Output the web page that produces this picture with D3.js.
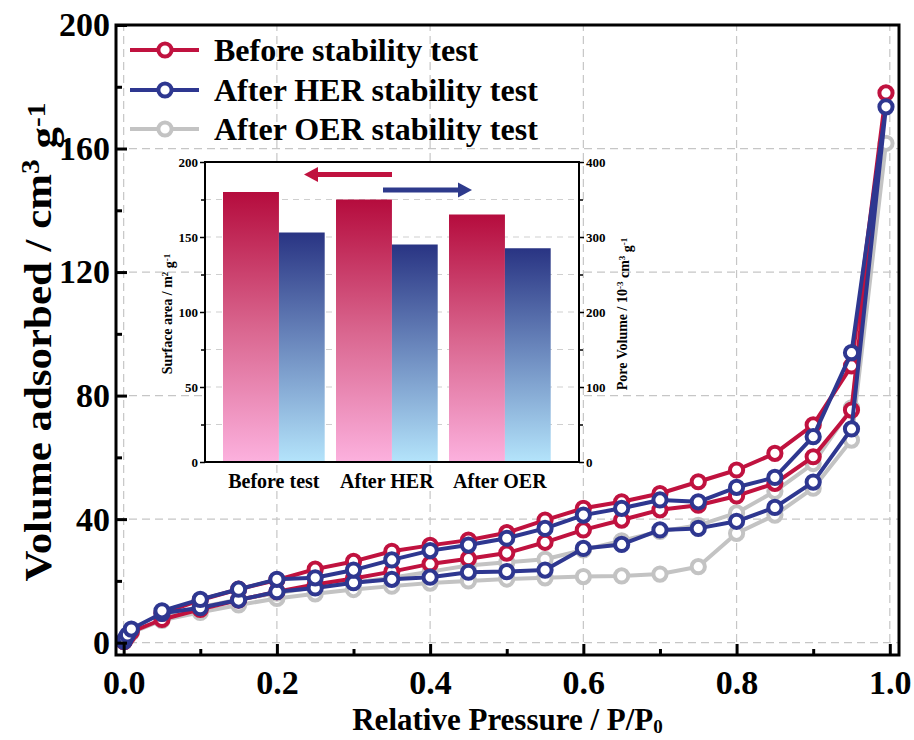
<!DOCTYPE html>
<html>
<head>
<meta charset="utf-8">
<script src="https://cdn.jsdelivr.net/npm/d3@7"></script>
<style>
  html, body { margin: 0; padding: 0; background: #fff; }
  svg { display: block; }
  text { font-family: "Liberation Serif", "Times New Roman", serif; font-weight: bold; fill: #000; }
</style>
</head>
<body>
<script>
// ---------------- DATA ----------------
const seriesNames = ["Before stability test", "After HER stability test", "After OER stability test"];

const adsPressure = [0.0005, 0.002, 0.005, 0.01, 0.05, 0.1, 0.15, 0.2, 0.25, 0.3, 0.35, 0.4, 0.45, 0.5, 0.55, 0.6, 0.65, 0.7, 0.75, 0.8, 0.85, 0.9, 0.95, 0.995];
const desPressure = [0.95, 0.9, 0.85, 0.8, 0.75, 0.7, 0.65, 0.6, 0.55, 0.5, 0.45, 0.4, 0.35, 0.3, 0.25, 0.2, 0.15, 0.1, 0.05];

const beforeAds = [0.3, 1.0, 2.0, 3.5, 7.5, 10.8, 13.8, 16.5, 18.8, 20.8, 23.0, 25.5, 27.2, 29.0, 32.5, 36.5, 39.7, 43.0, 44.5, 47.5, 51.6, 60.2, 75.3, 178.0];
const beforeDes = [89.6, 70.5, 61.3, 55.9, 52.1, 48.3, 45.6, 43.5, 39.7, 35.6, 33.2, 31.5, 29.6, 26.3, 23.8, 20.3, 17.3, 13.8, 9.5];

const herAds = [0.4, 1.3, 2.5, 4.4, 9.5, 11.3, 13.8, 16.5, 17.7, 19.4, 20.5, 21.2, 22.8, 23.0, 23.5, 30.5, 31.8, 36.5, 37.0, 39.3, 43.8, 52.0, 69.2, 173.5];
const herDes = [93.9, 66.7, 53.5, 50.3, 45.6, 46.2, 43.5, 41.3, 37.0, 33.8, 31.6, 29.8, 26.8, 23.5, 21.0, 20.5, 17.3, 14.0, 10.3];

const oerAds = [0.3, 0.9, 1.8, 3.2, 7.2, 9.8, 12.2, 14.3, 15.8, 17.2, 18.3, 19.3, 20.0, 20.6, 21.0, 21.4, 21.6, 22.2, 24.6, 35.4, 41.3, 50.0, 65.6, 161.7];
const oerDes = [76.0, 58.0, 49.0, 42.0, 38.0, 36.0, 33.0, 30.0, 27.0, 26.0, 25.0, 23.0, 21.0, 19.5, 18.0, 16.0, 14.0, 11.5, 8.5];

const xTicks = [0.0, 0.2, 0.4, 0.6, 0.8, 1.0];
const xMinorTicks = [0.1, 0.3, 0.5, 0.7, 0.9];
const yTicks = [0, 40, 80, 120, 160, 200];
const yMinorTicks = [20, 60, 100, 140, 180];

// Inset data
const insetCategories = ["Before test", "After HER", "After OER"];
const surfaceArea = [180, 175, 165];     // m2 g-1 (left axis)
const poreVolume = [306, 290, 285];      // 10^-3 cm3 g-1 (right axis)
const insetLeftTicks = [0, 50, 100, 150, 200];
const insetLeftMinor = [25, 75, 125, 175];
const insetRightTicks = [0, 100, 200, 300, 400];
const insetRightMinor = [50, 150, 250, 350];

// ---------------- DRAW ----------------
const W = 914, H = 740;
const colors = ["#C0123F", "#2E3790", "#C3C3C3"];

const svg = d3.select("body").append("svg").attr("width", W).attr("height", H);
const defs = svg.append("defs");

const x = d3.scaleLinear().domain([-0.01, 1.012]).range([116, 899]);
const y = d3.scaleLinear().domain([-4, 200]).range([655, 25]);
const [X0, X1] = x.range();
const [YB, YT] = y.range();   // bottom, top

// gridlines
const grid = svg.append("g").attr("stroke", "#c6c6c6").attr("stroke-width", 1.2).attr("stroke-dasharray", "8,5");
grid.selectAll("line.h").data(yTicks.filter(v => v < 200)).join("line")
  .attr("x1", X0).attr("x2", X1).attr("y1", d => y(d)).attr("y2", d => y(d));
grid.selectAll("line.v").data(xTicks).join("line")
  .attr("y1", YB).attr("y2", YT).attr("x1", d => x(d)).attr("x2", d => x(d));

// ---------------- INSET ----------------
const ix0 = 205, ix1 = 579, iy0 = 162, iy1 = 462;
const yL = d3.scaleLinear().domain([0, 200]).range([iy1, iy0]);
const yR = d3.scaleLinear().domain([0, 400]).range([iy1, iy0]);
const xb = d3.scaleBand().domain(insetCategories).range([211.7, 562]).paddingInner(0.1).paddingOuter(0.1);

const inset = svg.append("g");
inset.append("rect").attr("x", ix0).attr("y", iy0).attr("width", ix1 - ix0).attr("height", iy1 - iy0).attr("fill", "#fff");

// inset gridlines
inset.append("g").attr("stroke", "#cfcfcf").attr("stroke-width", 1).attr("stroke-dasharray", "6,5")
  .selectAll("line").data(insetLeftMinor.concat([50, 100, 150])).join("line")
  .attr("x1", ix0).attr("x2", ix1).attr("y1", d => yL(d)).attr("y2", d => yL(d));

const gRed = defs.append("linearGradient").attr("id", "gRed").attr("x1", 0).attr("y1", 0).attr("x2", 0).attr("y2", 1);
gRed.append("stop").attr("offset", "0%").attr("stop-color", "#B50C3D");
gRed.append("stop").attr("offset", "50%").attr("stop-color", "#D9658E");
gRed.append("stop").attr("offset", "100%").attr("stop-color", "#FCB1DE");
const gBlue = defs.append("linearGradient").attr("id", "gBlue").attr("x1", 0).attr("y1", 0).attr("x2", 0).attr("y2", 1);
gBlue.append("stop").attr("offset", "0%").attr("stop-color", "#293483");
gBlue.append("stop").attr("offset", "50%").attr("stop-color", "#6E8CC0");
gBlue.append("stop").attr("offset", "100%").attr("stop-color", "#B4E4FB");

const redFrac = 0.55;
inset.selectAll("rect.sa").data(insetCategories).join("rect")
  .attr("x", d => xb(d)).attr("width", xb.bandwidth() * redFrac)
  .attr("y", (d, i) => yL(surfaceArea[i])).attr("height", (d, i) => iy1 - yL(surfaceArea[i]))
  .attr("fill", "url(#gRed)");
inset.selectAll("rect.pv").data(insetCategories).join("rect")
  .attr("x", d => xb(d) + xb.bandwidth() * redFrac).attr("width", xb.bandwidth() * (1 - redFrac))
  .attr("y", (d, i) => yR(poreVolume[i])).attr("height", (d, i) => iy1 - yR(poreVolume[i]))
  .attr("fill", "url(#gBlue)");

inset.append("rect").attr("x", ix0).attr("y", iy0).attr("width", ix1 - ix0).attr("height", iy1 - iy0)
  .attr("fill", "none").attr("stroke", "#000").attr("stroke-width", 2);

// inset axes
const insL = inset.append("g").attr("transform", `translate(${ix0},0)`)
  .call(d3.axisLeft(yL).tickValues(insetLeftTicks).tickSize(5).tickSizeOuter(0).tickPadding(2));
const insLm = inset.append("g").attr("transform", `translate(${ix0},0)`)
  .call(d3.axisLeft(yL).tickValues(insetLeftMinor).tickSize(4).tickSizeOuter(0).tickFormat(""));
const insR = inset.append("g").attr("transform", `translate(${ix1},0)`)
  .call(d3.axisRight(yR).tickValues(insetRightTicks).tickSize(5).tickSizeOuter(0).tickPadding(2));
const insRm = inset.append("g").attr("transform", `translate(${ix1},0)`)
  .call(d3.axisRight(yR).tickValues(insetRightMinor).tickSize(4).tickSizeOuter(0).tickFormat(""));
[insL, insLm, insR, insRm].forEach(g => {
  g.select(".domain").remove();
  g.selectAll("line").attr("stroke", "#000").attr("stroke-width", 1.5);
  g.selectAll("text").attr("font-size", 13).attr("font-family", "Liberation Serif").attr("font-weight", "bold");
});
const insB = inset.append("g").attr("transform", `translate(0,${iy1})`)
  .call(d3.axisBottom(xb).tickSize(0).tickPadding(12));
insB.select(".domain").remove();
insB.selectAll("text").attr("font-size", 20).attr("font-family", "Liberation Serif").attr("font-weight", "bold");

// inset titles
const tl = inset.append("text").attr("transform", `translate(172,${(iy0 + iy1) / 2 + 2}) rotate(-90)`)
  .attr("text-anchor", "middle").attr("font-size", 14);
tl.append("tspan").text("Surface area / m");
tl.append("tspan").attr("dy", "-0.45em").attr("font-size", 9).text("2");
tl.append("tspan").attr("dy", "0.45em").text(" g");
tl.append("tspan").attr("dy", "-0.45em").attr("font-size", 9).text("-1");

const tr = inset.append("text").attr("transform", `translate(627,${(iy0 + iy1) / 2 + 2}) rotate(-90)`)
  .attr("text-anchor", "middle").attr("font-size", 14);
tr.append("tspan").text("Pore Volume / 10");
tr.append("tspan").attr("dy", "-0.45em").attr("font-size", 9).text("-3");
tr.append("tspan").attr("dy", "0.45em").text(" cm");
tr.append("tspan").attr("dy", "-0.45em").attr("font-size", 9).text("3");
tr.append("tspan").attr("dy", "0.45em").text(" g");
tr.append("tspan").attr("dy", "-0.45em").attr("font-size", 9).text("-1");

// arrows
function arrow(xFrom, xTip, yy, col) {
  const dir = Math.sign(xTip - xFrom);
  const headLen = 14, headHalf = 7.5;
  inset.append("line").attr("x1", xFrom).attr("x2", xTip - dir * headLen + dir * 1).attr("y1", yy).attr("y2", yy)
    .attr("stroke", col).attr("stroke-width", 5);
  inset.append("path")
    .attr("d", `M${xTip},${yy} L${xTip - dir * headLen},${yy - headHalf} L${xTip - dir * headLen},${yy + headHalf} Z`)
    .attr("fill", col);
}
arrow(392, 304, 174.5, "#C0123F");
arrow(383, 472, 190, "#2E3A8C");

// ---------------- DATA SERIES ----------------
const allSeries = [
  { name: seriesNames[0], ads: beforeAds, des: beforeDes, color: colors[0] },
  { name: seriesNames[1], ads: herAds, des: herDes, color: colors[1] },
  { name: seriesNames[2], ads: oerAds, des: oerDes, color: colors[2] }
];
const drawOrder = [2, 0, 1];
const line = d3.line().x(d => x(d[0])).y(d => y(d[1]));
drawOrder.forEach(i => {
  const s = allSeries[i];
  const pts = adsPressure.map((p, k) => [p, s.ads[k]]).concat(desPressure.map((p, k) => [p, s.des[k]]));
  const g = svg.append("g");
  g.append("path").datum(pts).attr("d", line).attr("fill", "none")
    .attr("stroke", s.color).attr("stroke-width", 4).attr("stroke-linejoin", "round");
  g.selectAll("circle").data(pts).join("circle")
    .attr("cx", d => x(d[0])).attr("cy", d => y(d[1])).attr("r", 6.6)
    .attr("fill", "#fff").attr("stroke", s.color).attr("stroke-width", 4);
});

// ---------------- LEGEND ----------------
const legendY = [50, 90, 129];
const lg = svg.append("g");
allSeries.forEach((s, i) => {
  const yy = legendY[i];
  lg.append("line").attr("x1", 130).attr("x2", 199).attr("y1", yy).attr("y2", yy)
    .attr("stroke", s.color).attr("stroke-width", 4);
  lg.append("circle").attr("cx", 165).attr("cy", yy).attr("r", 6.6)
    .attr("fill", "#fff").attr("stroke", s.color).attr("stroke-width", 4);
  lg.append("text").attr("x", 214).attr("y", yy).attr("dy", "0.34em").attr("font-size", 32).text(s.name);
});

// ---------------- AXES ----------------
const yAxis = svg.append("g").attr("transform", `translate(${X0},0)`)
  .call(d3.axisLeft(y).tickValues(yTicks).tickSize(-11).tickSizeOuter(0).tickPadding(6).tickFormat(d3.format("d")));
const yAxisMinor = svg.append("g").attr("transform", `translate(${X0},0)`)
  .call(d3.axisLeft(y).tickValues(yMinorTicks).tickSize(-6).tickSizeOuter(0).tickFormat(""));
const xAxis = svg.append("g").attr("transform", `translate(0,${YB})`)
  .call(d3.axisBottom(x).tickValues(xTicks).tickSize(-11).tickSizeOuter(0).tickPadding(15).tickFormat(d3.format(".1f")));
const xAxisMinor = svg.append("g").attr("transform", `translate(0,${YB})`)
  .call(d3.axisBottom(x).tickValues(xMinorTicks).tickSize(-6).tickSizeOuter(0).tickFormat(""));
[yAxis, yAxisMinor, xAxis, xAxisMinor].forEach(g => {
  g.select(".domain").remove();
  g.selectAll("line").attr("stroke", "#000").attr("stroke-width", 3);
  g.selectAll("text").attr("font-size", 34).attr("font-family", "Liberation Serif").attr("font-weight", "bold");
});

// frame
svg.append("rect").attr("x", X0).attr("y", YT).attr("width", X1 - X0).attr("height", YB - YT)
  .attr("fill", "none").attr("stroke", "#000").attr("stroke-width", 3);

// axis titles
const xt = svg.append("text").attr("x", (X0 + X1) / 2).attr("y", 730).attr("text-anchor", "middle").attr("font-size", 31);
xt.append("tspan").text("Relative Pressure / P/P");
xt.append("tspan").attr("dy", "0.15em").attr("font-size", 19).text("0");

const yt = svg.append("text").attr("transform", `translate(51,342) rotate(-90) scale(1.13,1)`)
  .attr("text-anchor", "middle").attr("font-size", 38);
yt.append("tspan").text("Volume adsorbed / cm");
yt.append("tspan").attr("dy", "-0.45em").attr("font-size", 26).text("3");
yt.append("tspan").attr("dy", "0.45em").text(" g");
yt.append("tspan").attr("dy", "-0.45em").attr("font-size", 26).text("-1");
</script>
</body>
</html>
